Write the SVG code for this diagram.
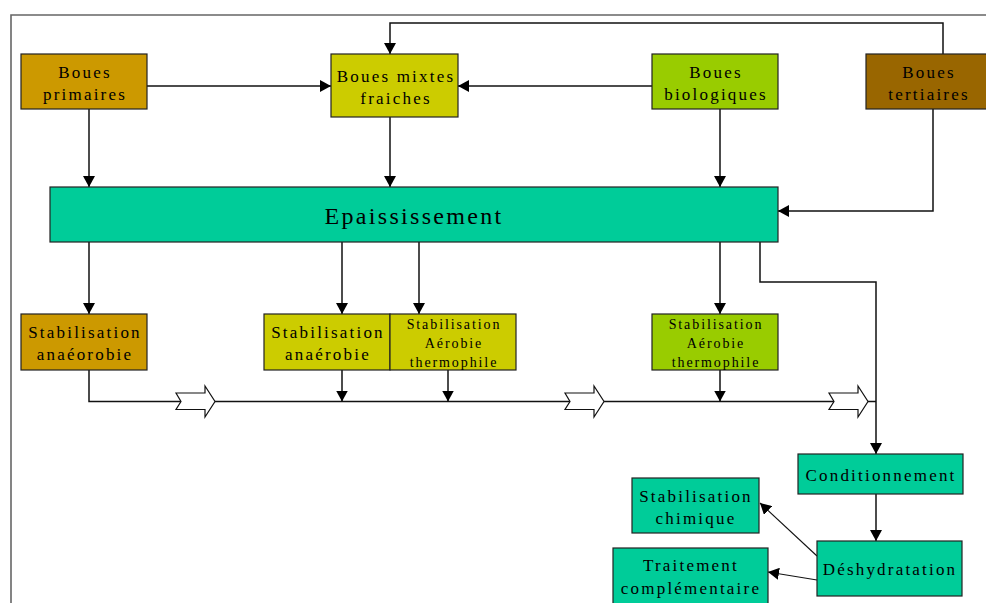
<svg xmlns="http://www.w3.org/2000/svg" width="986" height="603" viewBox="0 0 986 603">
<style>
.box{stroke:#222;stroke-width:1.2}
.t{font-family:"Liberation Serif","Times New Roman",serif;font-size:17px;letter-spacing:2.2px;text-anchor:middle;fill:#000}
.s{font-size:14px;letter-spacing:1.9px}
.big{font-size:24px;letter-spacing:2.3px}
.c{fill:none;stroke:#111;stroke-width:1.5}
.thin{stroke-width:1.1}
.h{fill:#fff;stroke:#111;stroke-width:1.2}
</style>
<defs>
<marker id="a" viewBox="0 0 11 12" refX="11" refY="6" markerWidth="11" markerHeight="12" markerUnits="userSpaceOnUse" orient="auto">
<path d="M0,0 L11,6 L0,12 Z" fill="#000"/>
</marker>
<path id="ha" d="M0,-8.5 L29,-8.5 L29,-15.5 L39,0 L29,15.5 L29,8 L0,8 L5,0 Z"/>
</defs>
<g id="frame"><path d="M11,603 L11,15 L986,15" fill="none" stroke="#666" stroke-width="1.6"/></g>
<g id="connectors">
<path class="c" d="M943,54 L943,23 L390,23 L390,54" marker-end="url(#a)"/>
<path class="c" d="M147,86 L331,86" marker-end="url(#a)"/>
<path class="c" d="M652,86 L458,86" marker-end="url(#a)"/>
<path class="c" d="M89,109 L89,187" marker-end="url(#a)"/>
<path class="c" d="M390,117 L390,187" marker-end="url(#a)"/>
<path class="c" d="M720,109 L720,187" marker-end="url(#a)"/>
<path class="c" d="M933,109 L933,211 L778,211" marker-end="url(#a)"/>
<path class="c" d="M89,242 L89,314" marker-end="url(#a)"/>
<path class="c" d="M342,242 L342,314" marker-end="url(#a)"/>
<path class="c" d="M419,242 L419,314" marker-end="url(#a)"/>
<path class="c" d="M720,242 L720,314" marker-end="url(#a)"/>
<path class="c" d="M760,242 L760,282 L876,282 L876,454" marker-end="url(#a)"/>
<path class="c" d="M89,370 L89,401.5 L876,401.5"/>
<path class="c" d="M342,370 L342,401.5" marker-end="url(#a)"/>
<path class="c" d="M448,370 L448,401.5" marker-end="url(#a)"/>
<path class="c" d="M720,370 L720,401.5" marker-end="url(#a)"/>
<path class="c" d="M876,494 L876,541" marker-end="url(#a)"/>
<path class="c thin" d="M817,556 L760,503" marker-end="url(#a)"/>
<path class="c thin" d="M817,580 L768,572" marker-end="url(#a)"/>
<use href="#ha" class="h" x="176" y="401.5"/>
<use href="#ha" class="h" x="565" y="401.5"/>
<use href="#ha" class="h" x="829" y="401.5"/>
</g>
<g id="boues-primaires"><rect class="box" x="21" y="54" width="126" height="55" fill="#CC9900"/><text class="t" x="85" y="78">Boues</text><text class="t" x="85" y="100">primaires</text></g>
<g id="boues-mixtes"><rect class="box" x="331" y="54" width="127" height="63" fill="#CCCC00"/><text class="t" x="396" y="82">Boues mixtes</text><text class="t" x="396" y="104">fraiches</text></g>
<g id="boues-biologiques"><rect class="box" x="652" y="54" width="126" height="55" fill="#99CC00"/><text class="t" x="716" y="78">Boues</text><text class="t" x="716" y="100">biologiques</text></g>
<g id="boues-tertiaires"><rect class="box" x="866" y="54" width="126" height="55" fill="#996600"/><text class="t" x="929" y="78">Boues</text><text class="t" x="929" y="100">tertiaires</text></g>
<g id="epaississement"><rect class="box" x="50" y="187" width="728" height="55" fill="#00CC99"/><text class="t big" x="414" y="224">Epaississement</text></g>
<g id="stab-anaeorobie"><rect class="box" x="21" y="314" width="126" height="56" fill="#CC9900"/><text class="t" x="85" y="338">Stabilisation</text><text class="t" x="85" y="360">anaéorobie</text></g>
<g id="stab-anaerobie"><rect class="box" x="264" y="314" width="126" height="56" fill="#CCCC00"/><text class="t" x="328" y="338">Stabilisation</text><text class="t" x="328" y="360">anaérobie</text></g>
<g id="stab-aerobie-1"><rect class="box" x="390" y="314" width="126" height="56" fill="#CCCC00"/><text class="t s" x="454" y="328.5">Stabilisation</text><text class="t s" x="454" y="347.5">Aérobie</text><text class="t s" x="454" y="366.5">thermophile</text></g>
<g id="stab-aerobie-2"><rect class="box" x="652" y="314" width="126" height="56" fill="#99CC00"/><text class="t s" x="716" y="328.5">Stabilisation</text><text class="t s" x="716" y="347.5">Aérobie</text><text class="t s" x="716" y="366.5">thermophile</text></g>
<g id="conditionnement"><rect class="box" x="798" y="454" width="165" height="40" fill="#00CC99"/><text class="t" x="881" y="481">Conditionnement</text></g>
<g id="stab-chimique"><rect class="box" x="632" y="478" width="127" height="55" fill="#00CC99"/><text class="t" x="696" y="502">Stabilisation</text><text class="t" x="696" y="523.5">chimique</text></g>
<g id="deshydratation"><rect class="box" x="817" y="541" width="145" height="55" fill="#00CC99"/><text class="t" x="890" y="575">Déshydratation</text></g>
<g id="traitement"><rect class="box" x="613" y="548" width="155" height="60" fill="#00CC99"/><text class="t" x="691" y="571">Traitement</text><text class="t" x="691" y="593.5">complémentaire</text></g>
</svg>
